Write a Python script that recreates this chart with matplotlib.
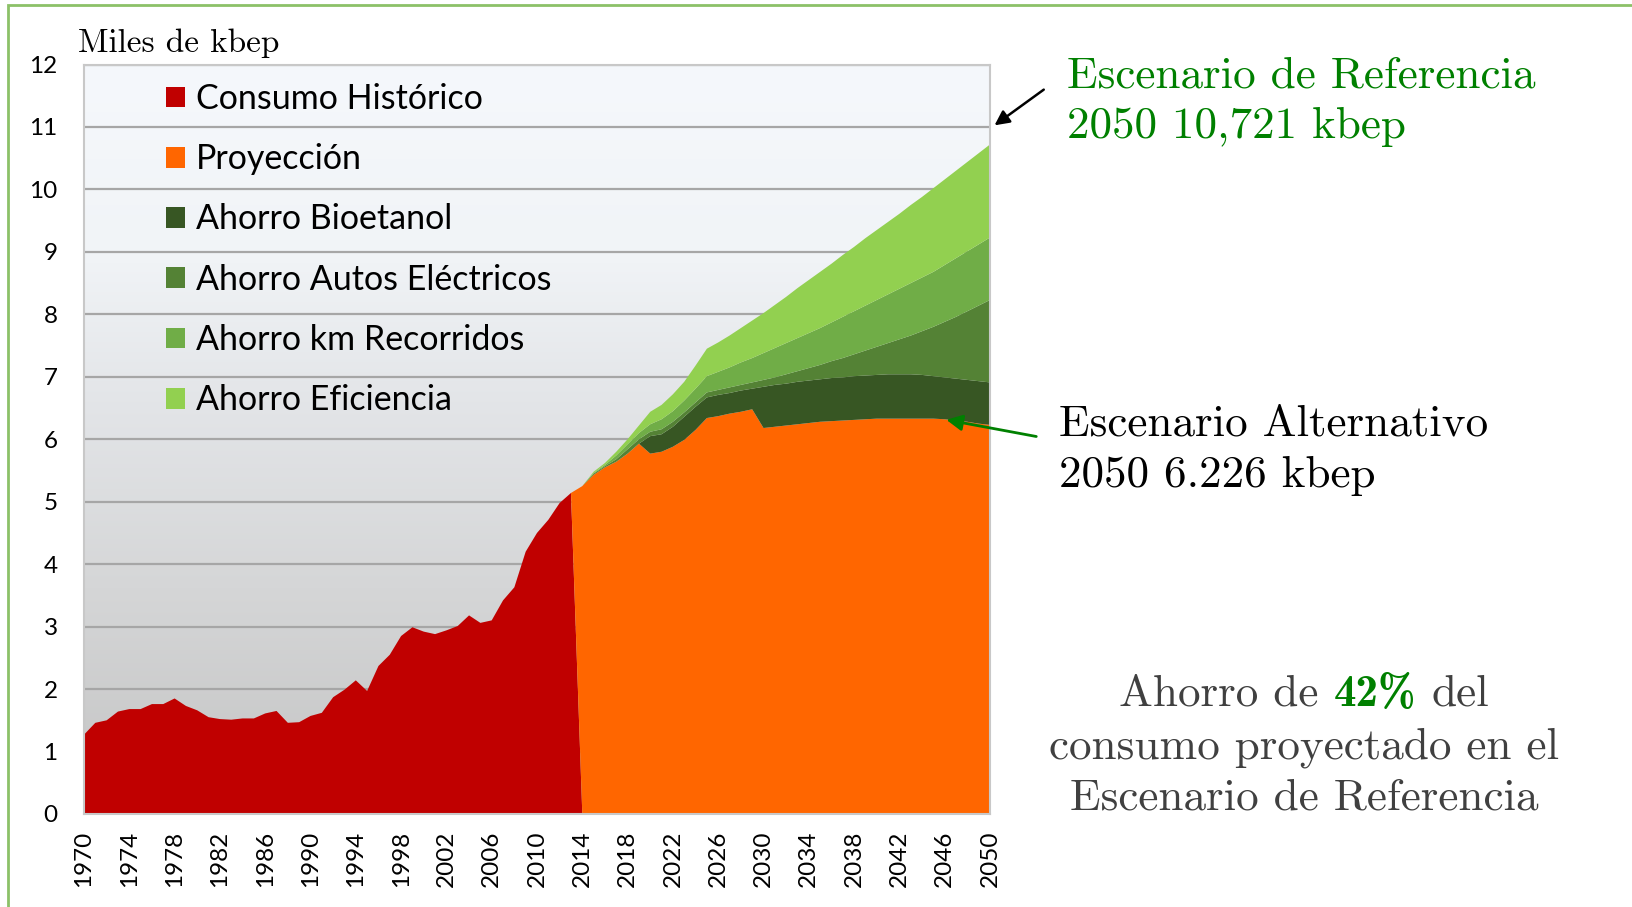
import numpy as np
import matplotlib.pyplot as plt
from matplotlib.colors import LinearSegmentedColormap
from matplotlib.patches import Rectangle

# datos (miles de kbep)
anios = np.arange(1970, 2051)
historico = [1.27, 1.46, 1.50, 1.64, 1.68, 1.68, 1.76, 1.76, 1.85, 1.73,
             1.66, 1.55, 1.52, 1.51, 1.53, 1.53, 1.61, 1.65, 1.46, 1.47,
             1.57, 1.62, 1.87, 1.99, 2.14, 1.97, 2.37, 2.55, 2.85, 2.99,
             2.92, 2.88, 2.94, 3.01, 3.18, 3.06, 3.10, 3.42, 3.63, 4.20,
             4.50, 4.71, 4.98, 5.14]

# topes acumulados de cada capa, 2014-2050
tope_proyeccion = [5.25, 5.43, 5.55, 5.64, 5.77, 5.93, 5.77, 5.80, 5.88, 5.99,
                   6.15, 6.34, 6.37, 6.41, 6.44, 6.48, 6.18, 6.20, 6.22, 6.24,
                   6.26, 6.28, 6.29, 6.30, 6.31, 6.32, 6.33, 6.33, 6.33, 6.33,
                   6.33, 6.33, 6.32, 6.30, 6.28, 6.25, 6.23]
tope_bioetanol = [5.25, 5.43, 5.55, 5.64, 5.77, 5.93, 6.05, 6.08, 6.20, 6.36,
                  6.52, 6.67, 6.71, 6.74, 6.78, 6.81, 6.84, 6.87, 6.89, 6.92,
                  6.94, 6.96, 6.98, 6.99, 7.01, 7.02, 7.03, 7.04, 7.04, 7.04,
                  7.03, 7.01, 6.99, 6.97, 6.95, 6.93, 6.91]
tope_autos = [5.25, 5.45, 5.57, 5.68, 5.84, 6.00, 6.12, 6.16, 6.28, 6.43,
              6.59, 6.75, 6.79, 6.83, 6.87, 6.91, 6.95, 6.99, 7.04, 7.09,
              7.14, 7.19, 7.25, 7.30, 7.36, 7.42, 7.48, 7.54, 7.60, 7.66,
              7.73, 7.80, 7.88, 7.96, 8.05, 8.14, 8.23]
tope_km = [5.25, 5.46, 5.59, 5.74, 5.92, 6.10, 6.24, 6.32, 6.45, 6.62,
           6.81, 7.01, 7.08, 7.15, 7.23, 7.30, 7.38, 7.46, 7.54, 7.62,
           7.70, 7.78, 7.87, 7.96, 8.05, 8.14, 8.23, 8.32, 8.41, 8.50,
           8.59, 8.68, 8.79, 8.90, 9.01, 9.12, 9.23]
tope_eficiencia = [5.25, 5.48, 5.62, 5.80, 6.00, 6.22, 6.44, 6.55, 6.72, 6.92,
                   7.18, 7.45, 7.55, 7.66, 7.78, 7.90, 8.02, 8.15, 8.28, 8.42,
                   8.55, 8.68, 8.81, 8.95, 9.08, 9.22, 9.35, 9.48, 9.61, 9.75,
                   9.88, 10.02, 10.16, 10.30, 10.44, 10.58, 10.72]

nombres = ['Consumo Histórico', 'Proyección', 'Ahorro Bioetanol',
           'Ahorro Autos Eléctricos', 'Ahorro km Recorridos', 'Ahorro Eficiencia']
colores = ['#C00000', '#FF6600', '#375623', '#548235', '#70AD47', '#92D050']

# de topes a capas apiladas
i0 = len(historico)
hist = np.zeros(len(anios))
hist[:i0] = historico
niveles = [hist]
for tope in [tope_proyeccion, tope_bioetanol, tope_autos, tope_km, tope_eficiencia]:
    arr = hist.copy()
    arr[i0:] = tope
    niveles.append(arr)
capas = [niveles[0]] + [niveles[k] - niveles[k - 1] for k in range(1, len(niveles))]

W, H = 1632, 907
fig = plt.figure(figsize=(W / 100, H / 100), dpi=100)
ax = fig.add_axes([84 / W, 1 - 814 / H, (990 - 84) / W, (814 - 64.5) / H])

# fondo degradado
fondo = LinearSegmentedColormap.from_list('fondo', [
    (0.0, '#C4C4C4'), (0.3, '#D5D6D7'), (0.55, '#E3E5E8'),
    (0.75, '#F1F4F7'), (1.0, '#F5F8FC')])
grad = np.linspace(0, 1, 256).reshape(-1, 1)
ax.imshow(grad, extent=[1970, 2050, 0, 12], origin='lower', aspect='auto',
          cmap=fondo, zorder=0.1)

ax.stackplot(anios, *capas, colors=colores, labels=nombres, linewidth=0, zorder=2)

ax.set_xlim(1970, 2050)
ax.set_ylim(0, 12)
ax.set_axisbelow(True)
ax.grid(axis='y', color='#A6A6A6', lw=1.6)
ax.set_yticks(range(0, 13))
ax.set_xticks(range(1970, 2051, 4))
ax.tick_params(axis='y', length=0, pad=19, labelsize=17.5)
ax.tick_params(axis='x', length=0, pad=12, labelsize=17.5, labelrotation=90)
for lab in ax.get_xticklabels() + ax.get_yticklabels():
    lab.set_family('Lato')
for s in ax.spines.values():
    s.set_color('#C8C8C8')
    s.set_linewidth(1.5)

ax.legend(loc='upper left', bbox_to_anchor=(82 / 906, 1 - 18.5 / 749.5),
          frameon=False, prop=dict(family='Lato', size=24.5),
          handlelength=0.56, handleheight=0.56, handletextpad=0.32,
          labelspacing=0.83, borderpad=0, borderaxespad=0)

# textos en serif
fs = 32.5
serif = dict(family='cmr10', fontsize=fs, va='baseline')
fig.text(78 / W, 1 - 52 / H, 'Miles de kbep', family='cmr10', fontsize=24, va='baseline')
fig.text(1067 / W, 1 - 87 / H, 'Escenario de Referencia', color='#008000', **serif)
fig.text(1067 / W, 1 - 138 / H, '2050 10,721 kbep', color='#008000', **serif)
fig.text(1059 / W, 1 - 436 / H, 'Escenario Alternativo', color='black', **serif)
fig.text(1059 / W, 1 - 487 / H, '2050 6.226 kbep', color='black', **serif)

gris = '#404040'
cx = 1304 / W
fig.text(cx, 1 - 758 / H, 'consumo proyectado en el', color=gris, ha='center', **serif)
fig.text(cx, 1 - 809 / H, 'Escenario de Referencia', color=gris, ha='center', **serif)

# primera linea con "42%" en verde y negrita
r = fig.canvas.get_renderer()
partes = [('Ahorro de', gris, 'cmr10'), ('42%', '#008000', 'cmb10'), ('del', gris, 'cmr10')]
objs = [fig.text(0, 1 - 706 / H, p, color=c, family=f, fontsize=fs, va='baseline')
        for p, c, f in partes]
t_aa = fig.text(0, 0, 'aa', family='cmr10', fontsize=fs)
t_ab = fig.text(0, 0, 'a a', family='cmr10', fontsize=fs)
esp = t_ab.get_window_extent(r).width - t_aa.get_window_extent(r).width
t_aa.remove()
t_ab.remove()
anchos = [o.get_window_extent(r).width for o in objs]
total = sum(anchos) + 2 * esp
x = cx * W - total / 2
for o, w in zip(objs, anchos):
    o.set_x(x / W)
    x += w + esp

# flechas
ax.annotate('', xy=(2050.2, 11.0), xytext=(1046 / W, 1 - 88 / H),
            textcoords='figure fraction', annotation_clip=False,
            arrowprops=dict(arrowstyle='-|>', color='black', lw=1.8, mutation_scale=22))
ax.annotate('', xy=(2045.9, 6.32), xytext=(1039 / W, 1 - 437 / H),
            textcoords='figure fraction', annotation_clip=False,
            arrowprops=dict(arrowstyle='-|>', color='#008000', lw=2, mutation_scale=24))

# marco verde de la diapositiva
fig.add_artist(Rectangle((8 / W, -0.1), 1.2, 1 - 5 / H + 0.1, transform=fig.transFigure,
                         fill=False, edgecolor='#8CC168', lw=2, clip_on=False))

fig.savefig('out.png', dpi=100)
